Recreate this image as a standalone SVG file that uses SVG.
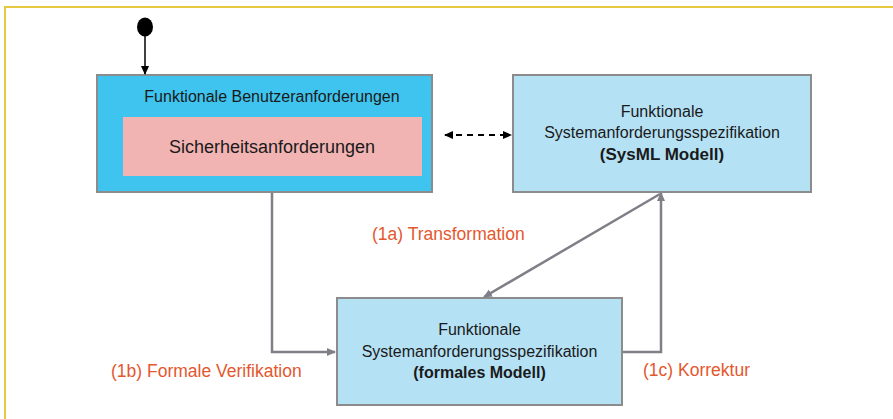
<svg xmlns="http://www.w3.org/2000/svg" width="893" height="419" viewBox="0 0 893 419">
<defs>
<style>
.t{font-family:"Liberation Sans",Arial,sans-serif;fill:#1a1a1a;text-anchor:middle}
.b{font-weight:bold}
.lbl{font-family:"Liberation Sans",Arial,sans-serif;fill:#E4572E;font-size:17.5px}
.box{stroke:#8c8c8c;stroke-width:2}
.con{fill:none;stroke:#7f7f87;stroke-width:2.5}
</style>
<marker id="ag" markerWidth="10" markerHeight="10" refX="8" refY="5" orient="auto" markerUnits="userSpaceOnUse"><path d="M0,1 L9,5 L0,9 Z" fill="#7f7f87"/></marker>
<marker id="ak" markerWidth="10" markerHeight="10" refX="8" refY="5" orient="auto" markerUnits="userSpaceOnUse"><path d="M0,1 L9,5 L0,9 Z" fill="#000"/></marker>
<marker id="aks" markerWidth="10" markerHeight="10" refX="1" refY="5" orient="auto" markerUnits="userSpaceOnUse"><path d="M9,1 L0,5 L9,9 Z" fill="#000"/></marker>
</defs>
<rect width="893" height="419" fill="#fff"/>
<rect x="5" y="7" width="900" height="430" fill="none" stroke="#E6C843" stroke-width="2"/>

<g id="start">
<ellipse cx="145" cy="27" rx="8" ry="9.5" fill="#000"/>
</g>

<g id="benutzeranforderungen">
<rect class="box" x="97" y="75" width="335" height="117" fill="#3EC4EE"/>
<text class="t" x="272" y="102" font-size="16">Funktionale Benutzeranforderungen</text>
</g>
<g id="sicherheitsanforderungen">
<rect x="123" y="117" width="299" height="59" fill="#F2B3B3"/>
<text class="t" x="272" y="153" font-size="18">Sicherheitsanforderungen</text>
</g>

<g id="sysml">
<rect class="box" x="513" y="75" width="298" height="117" fill="#B5E1F5"/>
<text class="t" x="662" y="117" font-size="16">Funktionale</text>
<text class="t" x="662" y="138" font-size="16">Systemanforderungsspezifikation</text>
<text class="t b" x="662" y="160" font-size="17">(SysML Modell)</text>
</g>

<g id="formal">
<rect class="box" x="337" y="298" width="285" height="107" fill="#B5E1F5"/>
<text class="t" x="479.5" y="335" font-size="16">Funktionale</text>
<text class="t" x="479.5" y="357" font-size="16">Systemanforderungsspezifikation</text>
<text class="t b" x="479.5" y="378" font-size="16">(formales Modell)</text>
</g>

<g id="connectors">
<line x1="145" y1="36" x2="145" y2="74" stroke="#000" stroke-width="1.5" marker-end="url(#ak)"/>
<line x1="445" y1="135" x2="511" y2="135" stroke="#000" stroke-width="2" stroke-dasharray="6,5" marker-start="url(#aks)" marker-end="url(#ak)"/>
<polyline class="con" points="272,193 272,352 335,352" marker-end="url(#ag)"/>
<line class="con" x1="660" y1="194" x2="484" y2="297" marker-end="url(#ag)"/>
<polyline class="con" points="623,352 661,352 661,193" marker-end="url(#ag)"/>
</g>

<g id="labels">
<text class="lbl" x="372" y="240">(1a) Transformation</text>
<text class="lbl" x="111" y="377">(1b) Formale Verifikation</text>
<text class="lbl" x="643" y="376">(1c) Korrektur</text>
</g>
</svg>
